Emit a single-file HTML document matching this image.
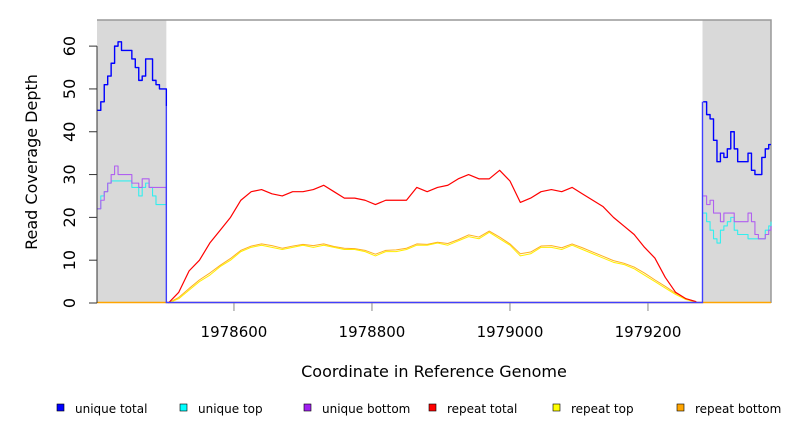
<!DOCTYPE html>
<html><head><meta charset="utf-8"><style>
html,body{margin:0;padding:0;background:#fff;}
svg{display:block;font-family:"DejaVu Sans","Liberation Sans",sans-serif;}
</style></head><body>
<svg id="chart" width="792" height="432" viewBox="0 0 792 432" xmlns="http://www.w3.org/2000/svg"></svg>
<script>
const yTicks=[0,10,20,30,40,50,60];
const xTicks=[1978600,1978800,1979000,1979200];
const leftX=[1978402,1978407,1978412,1978417,1978422,1978427,1978432,1978437,1978442,1978447,1978452,1978457,1978462,1978467,1978472,1978477,1978482,1978487,1978492,1978497,1978502];
const leftUniqueTotal=[45,47,51,53,56,60,61,59,59,59,57,55,52,53,57,57,52,51,50,50,46];
const leftUniqueTop=[22,25,26,28,28.5,28.5,28.5,28.5,28.5,28.5,27,27,25,27,28,27,25,23,23,23,22];
const leftUniqueBottom=[22,24,26,28,30,32,30,30,30,30,28,28,27,29,29,27,27,27,27,27,23];
const rightX=[1979280,1979285,1979290,1979295,1979300,1979305,1979310,1979315,1979320,1979325,1979330,1979335,1979340,1979345,1979350,1979355,1979360,1979365,1979370,1979375,1979380];
const rightUniqueTotal=[47,44,43,38,33,35,34,36,40,36,33,33,33,35,31,30,30,34,36,37,37];
const rightUniqueTop=[21,19,17,15,14,17,18,19,20,17,16,16,16,15,15,15,15,15,17,18,19];
const rightUniqueBottom=[25,23,24,21,21,19,21,21,21,19,19,19,19,21,19,16,15,15,16,17,18];
const midX=[1978505,1978520,1978535,1978550,1978565,1978580,1978595,1978610,1978625,1978640,1978655,1978670,1978685,1978700,1978715,1978730,1978745,1978760,1978775,1978790,1978805,1978820,1978835,1978850,1978865,1978880,1978895,1978910,1978925,1978940,1978955,1978970,1978985,1979000,1979015,1979030,1979045,1979060,1979075,1979090,1979105,1979120,1979135,1979150,1979165,1979180,1979195,1979210,1979225,1979240,1979255,1979270];
const repeatTotal=[0,2.5,7.5,10,14,17,20,24,26,26.5,25.5,25,26,26,26.5,27.5,26,24.5,24.5,24,23,24,24,24,27,26,27,27.5,29,30,29,29,31,28.5,23.5,24.5,26,26.5,26,27,25.5,24,22.5,20,18,16,13,10.5,6,2.5,1,0.3];
const repeatTop=[0,1,3,5,6.5,8.5,10,12,13,13.5,13,12.5,13,13.5,13,13.5,13,12.5,12.5,12,11,12,12,12.5,13.5,13.5,14,13.5,14.5,15.5,15,16.5,15,13.5,11,11.5,13,13,12.5,13.5,12.5,11.5,10.5,9.5,9,8,6.5,5,3.5,2,0.8,0.2];
const repeatBottom=[0,1.3,3.4,5.4,7,8.8,10.4,12.3,13.3,13.8,13.4,12.8,13.3,13.7,13.4,13.8,13.2,12.8,12.7,12.3,11.4,12.3,12.4,12.8,13.8,13.7,14.2,13.9,14.8,15.9,15.4,16.8,15.4,13.8,11.5,11.9,13.3,13.4,12.9,13.8,12.9,11.9,10.9,9.9,9.3,8.4,7,5.4,3.9,2.3,1,0.3];

const svg=document.getElementById('chart');
const NS='http://www.w3.org/2000/svg';
const X0=97,X1=771,Y0=303,Y1=20;
const xMin=1978401.5,xMax=1979378.3,yMin=0,yMax=66.1;
function sx(v){return X0+(v-xMin)/(xMax-xMin)*(X1-X0);}
function sy(v){return Y0-(v-yMin)/(yMax-yMin)*(Y0-Y1);}
function mk(tag,attrs,parent){const e=document.createElementNS(NS,tag);for(const k in attrs)e.setAttribute(k,attrs[k]);(parent||svg).appendChild(e);return e;}

const bg=mk('rect',{x:X0,y:Y1,width:X1-X0,height:Y0-Y1,fill:'#fff'});


const gl=mk('rect',{x:X0,y:Y1,width:sx(1978502)-X0,height:Y0-Y1,fill:'#d9d9d9'});


const gr=mk('rect',{x:sx(1979279),y:Y1,width:X1-sx(1979279),height:Y0-Y1,fill:'#d9d9d9'});


const frame=mk('path',{d:`M${X0},${Y1}H${X1}V${Y0}`,fill:'none',stroke:'#999','stroke-width':1.5});



function stepPath(xs,ys){let d='';for(let i=0;i<xs.length;i++){const x=Math.min(sx(xs[i]),X1),y=sy(ys[i]);if(i===0)d+=`M${x},${y}`;else d+=`H${x}V${y}`;}return d;}
function linePath(xs,ys){let d='';for(let i=0;i<xs.length;i++){const x=Math.min(sx(xs[i]),X1),y=sy(ys[i]);d+=(i===0?'M':'L')+x+','+y;}return d;}
function series(d,color,name,w){const p=mk('path',{d:d,fill:'none',stroke:color,'stroke-width':w||1.1,'stroke-linejoin':'round'});return p;}

const zo=mk('path',{d:`M${X0},${Y0-0.5}H${X1}`,stroke:'#ffa500','stroke-width':1.5});


series(linePath(midX,repeatBottom),'#ffb020','repeat-bottom-line',1);
series(linePath(midX,repeatTop),'#ffee00','repeat-top-line',1);
series(linePath(midX,repeatTotal),'#ff0000','repeat-total-line',1.2);
series(stepPath(leftX,leftUniqueTop),'#33eeee','unique-top-left-line');
series(stepPath(leftX,leftUniqueBottom),'#b060f0','unique-bottom-left-line');
series(stepPath(leftX,leftUniqueTotal),'#0000ff','unique-total-left-line',1.4);
series(stepPath(rightX,rightUniqueTop),'#33eeee','unique-top-right-line');
series(stepPath(rightX,rightUniqueBottom),'#b060f0','unique-bottom-right-line');
series(stepPath(rightX,rightUniqueTotal),'#0000ff','unique-total-right-line',1.4);
const zb=mk('path',{d:`M${sx(1978502)},${sy(leftUniqueTotal[leftUniqueTotal.length-1])}V${Y0-0.5}H${sx(1979279)}V${sy(rightUniqueTotal[0])}`,fill:'none',stroke:'#4040ff','stroke-width':1.4});



const ya=mk('line',{x1:X0,y1:sy(0),x2:X0,y2:sy(60),stroke:'#333','stroke-width':1});


yTicks.forEach(t=>{const y=sy(t);
 const tk=mk('line',{x1:X0-8,y1:y,x2:X0,y2:y,stroke:'#333'});
 
 
 const tx=mk('text',{x:0,y:0,transform:`translate(75,${y}) rotate(-90)`,'text-anchor':'middle','font-size':16,fill:'#000'});
 tx.textContent=t;
 
 
});
xTicks.forEach(t=>{const x=sx(t);
 const tk=mk('line',{x1:x,y1:Y0,x2:x,y2:Y0+8,stroke:'#888'});
 
 
 const tx=mk('text',{x:x,y:337,'text-anchor':'middle','font-size':15,fill:'#000'});
 tx.textContent=t;
 
 
});
const xt=mk('text',{x:434,y:377,'text-anchor':'middle','font-size':16,fill:'#000'});
xt.textContent='Coordinate in Reference Genome';


const yt=mk('text',{x:0,y:0,transform:'translate(37,162) rotate(-90)','text-anchor':'middle','font-size':16,fill:'#000'});
yt.textContent='Read Coverage Depth';



const legendLabels=['unique total','unique top','unique bottom','repeat total','repeat top','repeat bottom'];
const legendColors=['#0000ff','#00ffff','#a020f0','#ff0000','#ffff00','#ffa500'];
const legendPos=[57,180,304,429,553,677];
legendLabels.forEach((l,i)=>{
 const g=mk('g',{});
 
 
 mk('rect',{x:legendPos[i],y:404,width:7,height:7,fill:legendColors[i],stroke:'#000','stroke-width':0.6},g);
 const t=mk('text',{x:legendPos[i]+18,y:413,'font-size':12,fill:'#000'},g);
 t.textContent=l;
});
</script>
</body></html>
